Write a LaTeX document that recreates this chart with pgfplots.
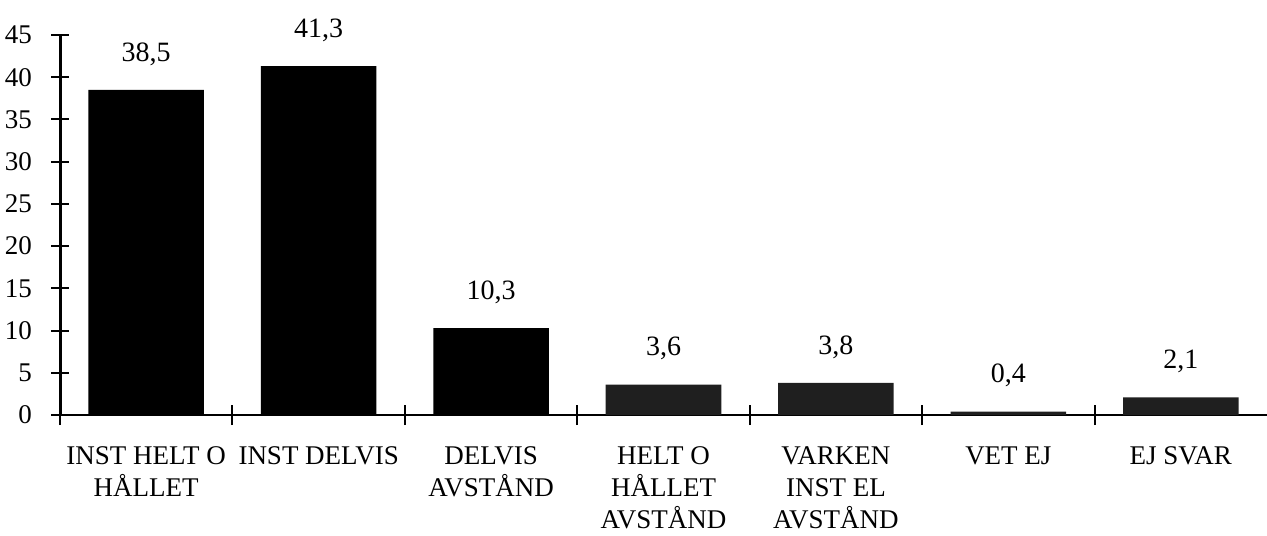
\documentclass[border=0pt]{standalone}
\usepackage{fontspec}
\setmainfont{Liberation Serif}
\usepackage{pgfplots}
\pgfplotsset{compat=1.18}
\begin{document}
\begin{tikzpicture}
\useasboundingbox (-30pt,-60pt) rectangle (603.5pt,207.5pt);
\begin{axis}[
  at={(0,0)}, anchor=south west,
  scale only axis,
  width=603.5pt, height=190pt,
  xmin=-0.5, xmax=6.5,
  ymin=0, ymax=45,
  ybar,
  bar width=0.67,
  axis x line*=bottom,
  axis y line*=left,
  x axis line style={line width=1pt},
  y axis line style={line width=1.5pt},
  tick align=center,
  ytick={0,5,...,45},
  major tick length=9pt,
  minor tick length=10pt,
  ytick style={line width=1pt, black},
  xtick={0,...,6},
  major x tick style={draw=none},
  minor xtick={-0.5,0.5,...,5.5},
  minor x tick style={line width=1pt, black},
  xticklabels={INST HELT O\\HÅLLET, INST DELVIS, DELVIS\\AVSTÅND, HELT O\\HÅLLET\\AVSTÅND, VARKEN\\INST EL\\AVSTÅND, VET EJ, EJ SVAR},
  xticklabel style={align=center, font=\fontsize{13.5}{16}\selectfont, yshift=-8pt},
  yticklabel style={font=\fontsize{13.5}{15}\selectfont, xshift=-6pt},
  /pgf/number format/assume math mode=true,
  nodes near coords,
  every node near coord/.append style={font=\fontsize{14}{16}\selectfont, anchor=south, inner sep=0pt, yshift=12pt,
    /pgf/number format/.cd, fixed, fixed zerofill, precision=1, use comma, assume math mode=true},
]
\addplot[fill=black, draw=none, bar shift=0pt] coordinates {
  (0,38.5) (1,41.3) (2,10.3)
};
\addplot[fill=black!88, draw=none, bar shift=0pt] coordinates {
  (3,3.6) (4,3.8) (5,0.4) (6,2.1)
};
\end{axis}
\end{tikzpicture}
\end{document}
